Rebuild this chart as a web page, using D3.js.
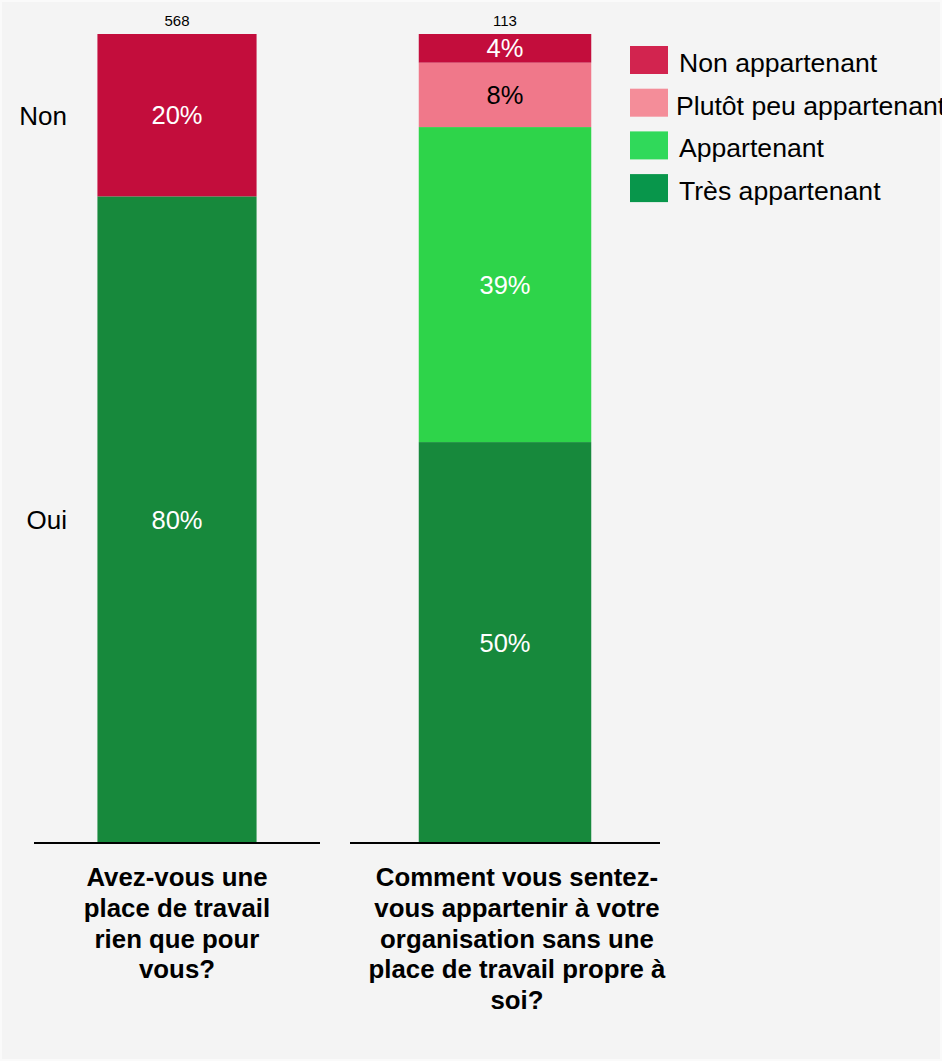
<!DOCTYPE html>
<html lang="fr">
<head>
<meta charset="utf-8">
<script src="https://cdn.jsdelivr.net/npm/d3@7"></script>
<style>
  html, body { margin: 0; padding: 0; background: #fafafa; }
  svg { display: block; }
  text { font-family: "Liberation Sans", Arial, Helvetica, sans-serif; }
</style>
</head>
<body>
<svg id="chart" width="942" height="1061"></svg>
<script>
// Question 1: own workplace (respondent counts)
const q1Categories = ["Oui", "Non"];
const q1Counts = [454, 114];
const q1Total = 568;
const q1TitleLines = ["Avez-vous une", "place de travail", "rien que pour", "vous?"];

// Question 2: sense of belonging without an own workplace (respondent counts)
const q2Categories = ["Très appartenant", "Appartenant", "Plutôt peu appartenant", "Non appartenant"];
const q2Counts = [56, 44, 9, 4];
const q2Total = 113;
const q2TitleLines = ["Comment vous sentez-", "vous appartenir à votre", "organisation sans une", "place de travail propre à", "soi?"];

// Legend entries, top to bottom
const legendLabels = ["Non appartenant", "Plutôt peu appartenant", "Appartenant", "Très appartenant"];

// Colours
const barColor = {
  "Oui": "#17893c", "Non": "#c30d3c",
  "Très appartenant": "#17893c", "Appartenant": "#2ed44a",
  "Plutôt peu appartenant": "#f0788a", "Non appartenant": "#c30d3c"
};
const labelColor = {
  "Oui": "#fff", "Non": "#fff",
  "Très appartenant": "#fff", "Appartenant": "#fff",
  "Plutôt peu appartenant": "#000", "Non appartenant": "#fff"
};
const legendColor = {
  "Non appartenant": "#d2244f", "Plutôt peu appartenant": "#f48d99",
  "Appartenant": "#30d95a", "Très appartenant": "#08964b"
};

const W = 942, H = 1061;
const svg = d3.select("#chart");

// Page background panel
svg.append("rect")
  .attr("x", 2).attr("y", 2).attr("width", W - 4).attr("height", H - 4)
  .attr("fill", "#f4f4f4");

const baseY = 843, topY = 34;
const y = d3.scaleLinear().domain([0, 1]).range([baseY, topY]);

function stackSegments(categories, counts) {
  const total = d3.sum(counts);
  let acc = 0;
  return categories.map((c, i) => {
    const s = { key: c, y0: acc / total, y1: (acc + counts[i]) / total, pct: counts[i] / total };
    acc += counts[i];
    return s;
  });
}

function drawPanel(opts) {
  const x = d3.scaleBand().domain([opts.id]).range(opts.range).padding(0.285);
  const g = svg.append("g");
  const segs = stackSegments(opts.categories, opts.counts);
  const bx = x(opts.id), bw = x.bandwidth(), cx = bx + bw / 2;

  g.selectAll("rect.seg").data(segs).join("rect")
    .attr("class", "seg")
    .attr("x", bx).attr("width", bw)
    .attr("y", d => y(d.y1))
    .attr("height", d => y(d.y0) - y(d.y1))
    .attr("fill", d => barColor[d.key]);

  g.selectAll("text.val").data(segs).join("text")
    .attr("class", "val")
    .attr("x", cx)
    .attr("y", d => y((d.y0 + d.y1) / 2))
    .attr("dy", "0.36em")
    .attr("text-anchor", "middle")
    .attr("font-size", 25.5)
    .attr("fill", d => labelColor[d.key])
    .text(d => d3.format(".0%")(d.pct));

  // respondent count above the bar
  g.append("text")
    .attr("x", cx).attr("y", topY - 8)
    .attr("text-anchor", "middle")
    .attr("font-size", 15)
    .attr("fill", "#000")
    .text(opts.total);

  // baseline
  g.append("line")
    .attr("x1", opts.range[0]).attr("x2", opts.range[1])
    .attr("y1", baseY).attr("y2", baseY)
    .attr("stroke", "#000").attr("stroke-width", 2);

  // question title
  const t = g.append("text")
    .attr("text-anchor", "middle")
    .attr("font-size", 25.8)
    .attr("font-weight", "bold")
    .attr("fill", "#000");
  opts.titleLines.forEach((line, i) => {
    t.append("tspan")
      .attr("x", cx + opts.titleShift)
      .attr("y", 886 + i * 30.8)
      .text(line);
  });

  if (opts.sideLabels) {
    g.selectAll("text.side").data(segs).join("text")
      .attr("class", "side")
      .attr("x", 67)
      .attr("y", d => y((d.y0 + d.y1) / 2))
      .attr("dy", "0.36em")
      .attr("text-anchor", "end")
      .attr("font-size", 26)
      .attr("fill", "#000")
      .text(d => d.key);
  }
}

drawPanel({
  id: "q1", range: [34, 320], categories: q1Categories, counts: q1Counts,
  total: q1Total, titleLines: q1TitleLines, titleShift: 0, sideLabels: true
});
drawPanel({
  id: "q2", range: [350, 660], categories: q2Categories, counts: q2Counts,
  total: q2Total, titleLines: q2TitleLines, titleShift: 12, sideLabels: false
});

// Legend
const legend = svg.append("g").attr("transform", "translate(630,46)");
const rowStep = 42.7;
const items = legend.selectAll("g").data(legendLabels).join("g")
  .attr("transform", (d, i) => `translate(0,${i * rowStep})`);
items.append("rect")
  .attr("width", 38).attr("height", 28)
  .attr("fill", d => legendColor[d]);
items.append("text")
  .attr("x", d => d === "Plutôt peu appartenant" ? 46 : 49)
  .attr("y", 26)
  .attr("font-size", 26.6)
  .attr("fill", "#000")
  .text(d => d);
</script>
</body>
</html>
